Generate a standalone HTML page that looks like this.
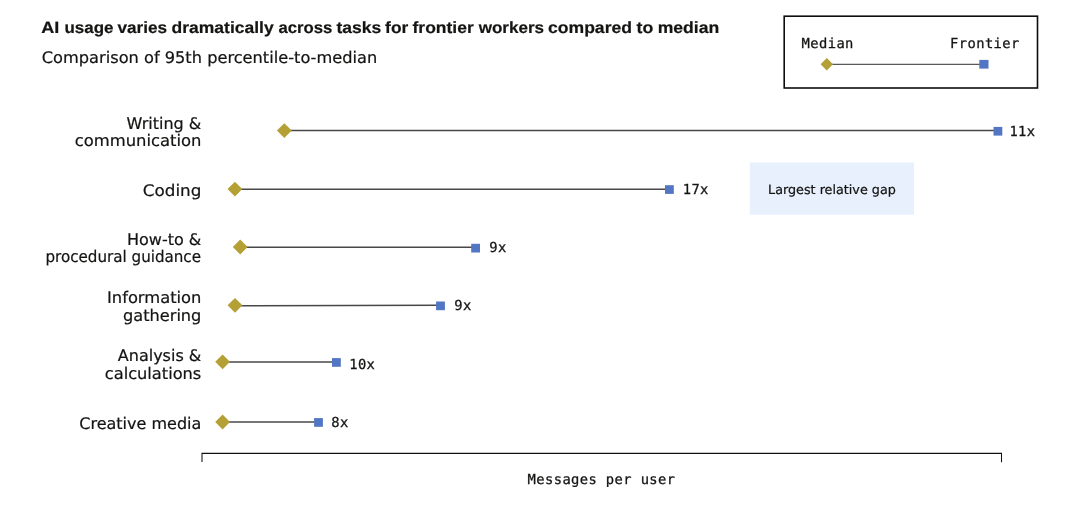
<!DOCTYPE html>
<html lang="en"><head><meta charset="utf-8"><title>AI usage varies dramatically across tasks</title>
<style>
html,body{margin:0;padding:0;background:#fff;}
body{width:1080px;height:525px;overflow:hidden;position:relative;}
svg{position:absolute;left:0;top:0;display:block;will-change:transform;}
text{text-rendering:geometricPrecision;}
.s{font-family:"DejaVu Sans","Liberation Sans",sans-serif;fill:#141413;font-size:16px;stroke:#141413;stroke-width:0.22px;}
.b{font-family:"Liberation Sans","DejaVu Sans",sans-serif;fill:#141413;font-weight:700;stroke:#141413;stroke-width:0.2px;}
.m{font-family:"DejaVu Sans Mono","Liberation Mono",monospace;fill:#141413;font-size:13.8px;letter-spacing:0.39px;stroke:#141413;stroke-width:0.28px;}
</style></head><body>
<svg width="1080" height="525" viewBox="0 0 1080 525">
<text class="b" y="33.4" font-size="16.3"><tspan x="41.30" textLength="18.04" lengthAdjust="spacingAndGlyphs">AI</tspan> <tspan x="64.50" textLength="48.93" lengthAdjust="spacingAndGlyphs">usage</tspan> <tspan x="117.42" textLength="49.64" lengthAdjust="spacingAndGlyphs">varies</tspan> <tspan x="171.60" textLength="102.08" lengthAdjust="spacingAndGlyphs">dramatically</tspan> <tspan x="278.40" textLength="53.88" lengthAdjust="spacingAndGlyphs">across</tspan> <tspan x="336.48" textLength="44.70" lengthAdjust="spacingAndGlyphs">tasks</tspan> <tspan x="385.12" textLength="23.11" lengthAdjust="spacingAndGlyphs">for</tspan> <tspan x="412.54" textLength="61.18" lengthAdjust="spacingAndGlyphs">frontier</tspan> <tspan x="478.67" textLength="65.40" lengthAdjust="spacingAndGlyphs">workers</tspan> <tspan x="548.03" textLength="83.96" lengthAdjust="spacingAndGlyphs">compared</tspan> <tspan x="636.52" textLength="16.73" lengthAdjust="spacingAndGlyphs">to</tspan> <tspan x="657.66" textLength="61.64" lengthAdjust="spacingAndGlyphs">median</tspan></text>
<text class="s" x="41.8" y="63.4" textLength="335.4" lengthAdjust="spacingAndGlyphs">Comparison of 95th percentile-to-median</text>
<rect x="784.2" y="16.2" width="253.3" height="71.8" fill="none" stroke="#0d0d0d" stroke-width="1.6"/>
<text class="m" x="801.6" y="47.7">Median</text>
<text class="m" x="950.1" y="47.7">Frontier</text>
<line x1="827" y1="64.45" x2="983" y2="64.45" stroke="#5a5a5a" stroke-width="1.15"/>
<path d="M826.8 58 L833 64.2 L826.8 70.4 L820.6 64.2 Z" fill="#B5A036"/>
<rect x="979.3" y="59.9" width="9.2" height="8.7" fill="#5276C4"/>
<rect x="749.8" y="162.5" width="164.3" height="52.2" fill="#E9F0FD"/>
<text class="s" x="768.1" y="193.9" style="font-size:12.75px">Largest relative gap</text>
<path d="M202 462 V453.35 H1001.5 V462.3" fill="none" stroke="#111" stroke-width="1.05"/>
<text class="m" x="527.6" y="483.5">Messages per user</text>
<line x1="284.3" y1="130.5" x2="995.5" y2="130.5" stroke="#484848" stroke-width="1.5"/>
<path d="M284.3 123.2 L291.7 130.6 L284.3 138.0 L276.9 130.6 Z" fill="#B5A036"/>
<rect x="993.5" y="126.9" width="8.8" height="8.7" fill="#5276C4"/>
<text class="m" x="1009.4" y="135.8">11x</text>
<line x1="234.9" y1="189.15" x2="667.0" y2="189.15" stroke="#484848" stroke-width="1.5"/>
<path d="M234.9 181.7 L242.3 189.1 L234.9 196.5 L227.5 189.1 Z" fill="#B5A036"/>
<rect x="665.0" y="185.2" width="8.8" height="8.7" fill="#5276C4"/>
<text class="m" x="682.7" y="193.9">17x</text>
<line x1="240.2" y1="247.2" x2="473.2" y2="247.2" stroke="#484848" stroke-width="1.5"/>
<path d="M240.2 239.6 L247.6 247.0 L240.2 254.4 L232.8 247.0 Z" fill="#B5A036"/>
<rect x="471.2" y="243.8" width="8.8" height="8.7" fill="#5276C4"/>
<text class="m" x="489.3" y="252.4">9x</text>
<line x1="235.0" y1="305.85" x2="438.1" y2="305.35" stroke="#484848" stroke-width="1.5"/>
<path d="M235.0 297.9 L242.4 305.3 L235.0 312.7 L227.6 305.3 Z" fill="#B5A036"/>
<rect x="436.1" y="301.5" width="8.8" height="8.7" fill="#5276C4"/>
<text class="m" x="454.3" y="310.1">9x</text>
<line x1="222.6" y1="362.0" x2="334.0" y2="362.0" stroke="#484848" stroke-width="1.5"/>
<path d="M222.6 354.4 L230.0 361.8 L222.6 369.2 L215.2 361.8 Z" fill="#B5A036"/>
<rect x="332.0" y="358.1" width="8.8" height="8.7" fill="#5276C4"/>
<text class="m" x="349.2" y="368.6">10x</text>
<line x1="222.6" y1="422.0" x2="316.1" y2="422.0" stroke="#484848" stroke-width="1.5"/>
<path d="M222.6 414.6 L230.0 422.0 L222.6 429.4 L215.2 422.0 Z" fill="#B5A036"/>
<rect x="314.1" y="418.1" width="8.8" height="8.7" fill="#5276C4"/>
<text class="m" x="331.2" y="426.7">8x</text>
<text class="s" x="201.3" y="128.6" text-anchor="end">Writing &amp;</text>
<text class="s" x="201.4" y="146.3" text-anchor="end" textLength="126.7" lengthAdjust="spacingAndGlyphs">communication</text>
<text class="s" x="201.4" y="195.6" text-anchor="end" textLength="58.6" lengthAdjust="spacingAndGlyphs">Coding</text>
<text class="s" x="201.3" y="244.8" text-anchor="end">How-to &amp;</text>
<text class="s" x="201.0" y="262.4" text-anchor="end" textLength="155.5" lengthAdjust="spacingAndGlyphs">procedural guidance</text>
<text class="s" x="201.4" y="303.0" text-anchor="end" textLength="94.4" lengthAdjust="spacingAndGlyphs">Information</text>
<text class="s" x="201.4" y="320.6" text-anchor="end" textLength="78.4" lengthAdjust="spacingAndGlyphs">gathering</text>
<text class="s" x="201.3" y="361.0" text-anchor="end">Analysis &amp;</text>
<text class="s" x="201.3" y="379.0" text-anchor="end" textLength="96.5" lengthAdjust="spacingAndGlyphs">calculations</text>
<text class="s" x="201.3" y="428.6" text-anchor="end">Creative media</text>
</svg>
</body></html>
